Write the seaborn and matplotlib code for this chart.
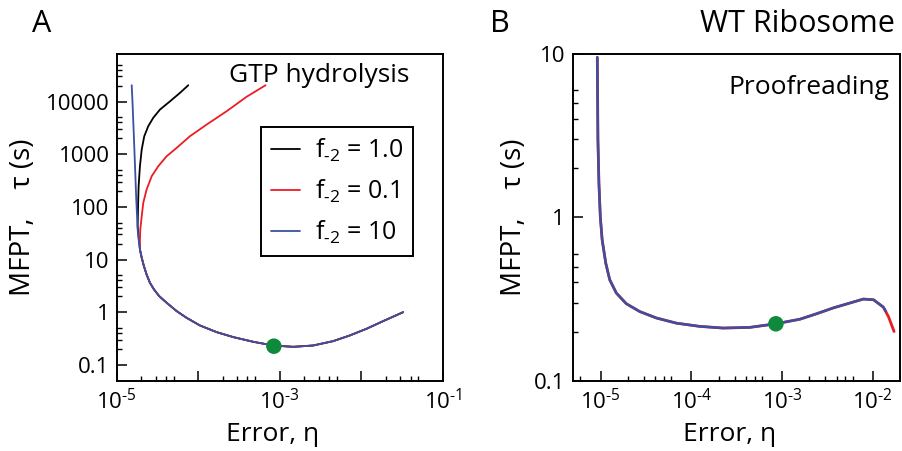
import numpy as np
import pandas as pd
import matplotlib
matplotlib.use("Agg")
import matplotlib.pyplot as plt
from matplotlib.ticker import FixedLocator, NullFormatter
import seaborn as sns

# panel A: MFPT vs error for three f_-2 values (GTP hydrolysis)
# lower branch shared by all three curves
common_x = [1.93e-5, 2.03e-5, 2.16e-5, 2.33e-5, 2.56e-5, 2.87e-5, 3.33e-5, 4.10e-5,
            5.43e-5, 7.21e-5, 1.05e-4, 1.68e-4, 2.69e-4, 4.72e-4, 8.28e-4, 1.46e-3,
            2.56e-3, 4.50e-3, 7.19e-3, 1.15e-2, 1.84e-2, 3.24e-2]
common_y = [15.5, 10.8, 7.48, 5.19, 3.61, 2.70, 2.01, 1.51,
            1.05, 0.78, 0.559, 0.418, 0.336, 0.274, 0.233, 0.220,
            0.233, 0.282, 0.361, 0.483, 0.675, 1.0]

black_x = [7.55e-5, 5.97e-5, 4.51e-5, 3.40e-5, 2.81e-5, 2.44e-5, 2.18e-5, 2.03e-5,
           1.93e-5, 1.86e-5, 1.83e-5, 1.81e-5]
black_y = [20400, 14600, 10100, 7050, 4910, 3400, 2190, 1230,
           592, 247, 103, 42.9]

red_x = [6.68e-4, 3.91e-4, 2.23e-4, 1.27e-4, 7.90e-5, 5.44e-5, 4.10e-5, 3.24e-5,
         2.69e-5, 2.33e-5, 2.12e-5, 2.03e-5, 1.95e-5, 1.93e-5]
red_y = [20400, 12300, 6550, 3660, 2190, 1320, 914, 592,
         382, 213, 119, 66.4, 37.2, 24.0]

blue_x = [1.53e-5, 1.56e-5, 1.59e-5, 1.62e-5, 1.65e-5, 1.68e-5, 1.71e-5, 1.74e-5,
          1.78e-5, 1.81e-5, 1.86e-5]
blue_y = [20400, 10900, 5260, 2550, 1230, 592, 286, 138,
          66.4, 37.2, 24.0]

opt_a = (8.45e-4, 0.226)

# panel B: WT ribosome, proofreading
b_x = [9.19e-6, 9.27e-6, 9.34e-6, 9.58e-6, 9.92e-6, 1.04e-5, 1.14e-5, 1.26e-5, 1.49e-5,
       1.92e-5, 2.70e-5, 4.12e-5, 6.85e-5, 1.24e-4, 2.24e-4, 4.42e-4, 8.56e-4,
       1.58e-3, 2.41e-3, 3.68e-3, 5.62e-3, 7.88e-3, 1.02e-2, 1.31e-2]
b_y = [9.54, 5.23, 2.98, 1.62, 1.01, 0.728, 0.524, 0.415, 0.344,
       0.296, 0.265, 0.242, 0.225, 0.215, 0.210, 0.212, 0.223,
       0.238, 0.257, 0.279, 0.299, 0.316, 0.313, 0.282]
b_red_tail_x = [1.49e-2, 1.72e-2]
b_red_tail_y = [0.247, 0.200]
b_blue_tail_x = [1.40e-2]
b_blue_tail_y = [0.265]

opt_b = (8.56e-4, 0.223)

HY = '\u2010'  # short hyphen, as in the original labels
labels = ['f$_{%s2}$ = 1.0' % HY, 'f$_{%s2}$ = 0.1' % HY, 'f$_{%s2}$ = 10' % HY]

BLACK = '#000000'
RED = '#ec1c24'
BLUE = '#3a50a2'
GREEN = '#0f8a3d'

sns.set_theme(style='ticks')
plt.rcParams['font.family'] = ['Open Sans', 'DejaVu Sans']
plt.rcParams['mathtext.default'] = 'regular'
plt.rcParams['axes.linewidth'] = 1.4
for k in ('text.color', 'axes.labelcolor', 'xtick.color', 'ytick.color', 'axes.edgecolor'):
    plt.rcParams[k] = 'black'

fig = plt.figure(figsize=(9.02, 4.51), dpi=100)
axA = fig.add_axes([0.1293, 0.1559, 0.3619, 0.7244])
axB = fig.add_axes([0.6356, 0.1559, 0.3622, 0.7244])


def df_of(xs, ys):
    return pd.DataFrame({'x': xs, 'y': ys})


def sci(p):
    # 10^p tick label with a short hyphen for the sign
    return '$10^{%s%d}$' % (HY, -p)


# ---- panel A
sA = [(black_x + common_x, black_y + common_y, BLACK, labels[0]),
      (red_x + common_x, red_y + common_y, RED, labels[1]),
      (blue_x + common_x, blue_y + common_y, BLUE, labels[2])]
for xs, ys, c, lab in sA:
    sns.lineplot(data=df_of(xs, ys), x='x', y='y', sort=False, estimator=None,
                 color=c, lw=1.3, label=lab, ax=axA)
sns.scatterplot(x=[opt_a[0]], y=[opt_a[1]], color=GREEN, s=125, edgecolor='none',
                ax=axA, zorder=5)

# ---- panel B
sns.lineplot(data=df_of(b_x + b_red_tail_x, b_y + b_red_tail_y), x='x', y='y',
             sort=False, estimator=None, color=RED, lw=2.0, ax=axB)
sns.lineplot(data=df_of(b_x + b_blue_tail_x, b_y + b_blue_tail_y), x='x', y='y',
             sort=False, estimator=None, color=BLUE, lw=1.8, ax=axB)
sns.scatterplot(x=[opt_b[0]], y=[opt_b[1]], color=GREEN, s=125, edgecolor='none',
                ax=axB, zorder=5)

for ax in (axA, axB):
    ax.set_xscale('log')
    ax.set_yscale('log')
    for sp in ax.spines.values():
        sp.set_visible(True)
        sp.set_color('black')
    ax.tick_params(which='both', direction='in', color='black', labelcolor='black',
                   top=False, right=False)
    ax.tick_params(which='major', length=7.5, width=1.1, labelsize=16)
    ax.tick_params(which='minor', length=3.8, width=1.0)
    ax.tick_params(axis='x', which='major', pad=6)
    ax.tick_params(axis='y', which='major', pad=5)
    ax.set_xlabel('Error, η', fontsize=19)
    ax.set_ylabel('MFPT,    τ (s)', fontsize=20)
    ax.xaxis.set_label_coords(0.478, -0.125)

axA.set_xlim(1e-5, 1e-1)
axA.set_ylim(0.05, 8e4)
axA.set_xticks([1e-5, 1e-4, 1e-3, 1e-2, 1e-1])
axA.set_xticklabels([sci(-5), '', sci(-3), '', sci(-1)])
axA.set_yticks([0.1, 1, 10, 100, 1000, 10000])
axA.set_yticklabels(['0.1', '1', '10', '100', '1000', '10000'])
axA.xaxis.set_minor_locator(FixedLocator([k * 10.0 ** n for n in range(-5, -1) for k in (2, 3, 4, 5)]))
axA.yaxis.set_minor_locator(FixedLocator([k * 10.0 ** n for n in range(-1, 5) for k in (2, 3, 4, 5)]))
axA.xaxis.set_minor_formatter(NullFormatter())
axA.yaxis.set_minor_formatter(NullFormatter())
axA.yaxis.set_label_coords(-0.243, 0.5)

axB.set_xlim(5e-6, 2e-2)
axB.set_ylim(0.1, 10)
axB.set_xticks([1e-5, 1e-4, 1e-3, 1e-2])
axB.set_xticklabels([sci(-5), sci(-4), sci(-3), sci(-2)])
axB.set_yticks([0.1, 1, 10])
axB.set_yticklabels(['0.1', '1', '10'])
bx_minor = [k * 10.0 ** n for n in range(-6, -2) for k in (2, 3, 4, 5, 6)]
axB.xaxis.set_minor_locator(FixedLocator([v for v in bx_minor if 5e-6 < v < 2e-2]))
axB.yaxis.set_minor_locator(FixedLocator([k * 10.0 ** n for n in (-1, 0) for k in (2, 3, 4, 5, 6)]))
axB.xaxis.set_minor_formatter(NullFormatter())
axB.yaxis.set_minor_formatter(NullFormatter())
axB.yaxis.set_label_coords(-0.139, 0.5)
axB.tick_params(axis='y', which='major', pad=6)

leg = axA.legend(loc='upper left', bbox_to_anchor=(0.4416, 0.777), borderaxespad=0,
                 fontsize=18, frameon=True, fancybox=False, framealpha=1,
                 edgecolor='black', handlelength=1.15, handletextpad=0.6,
                 labelspacing=0.55, borderpad=0.4)
leg.get_frame().set_linewidth(1.4)

axA.text(0.619, 0.914, 'GTP hydrolysis', transform=axA.transAxes, ha='center',
         va='baseline', fontsize=19)
axB.text(0.721, 0.879, 'Proofreading', transform=axB.transAxes, ha='center',
         va='baseline', fontsize=19)
fig.text(0.9922, 0.9297, 'WT Ribosome', ha='right', va='baseline', fontsize=22)
fig.text(0.0351, 0.9297, 'A', ha='left', va='baseline', fontsize=22)
fig.text(0.5432, 0.9297, 'B', ha='left', va='baseline', fontsize=22)

fig.savefig('out.png', dpi=100)
